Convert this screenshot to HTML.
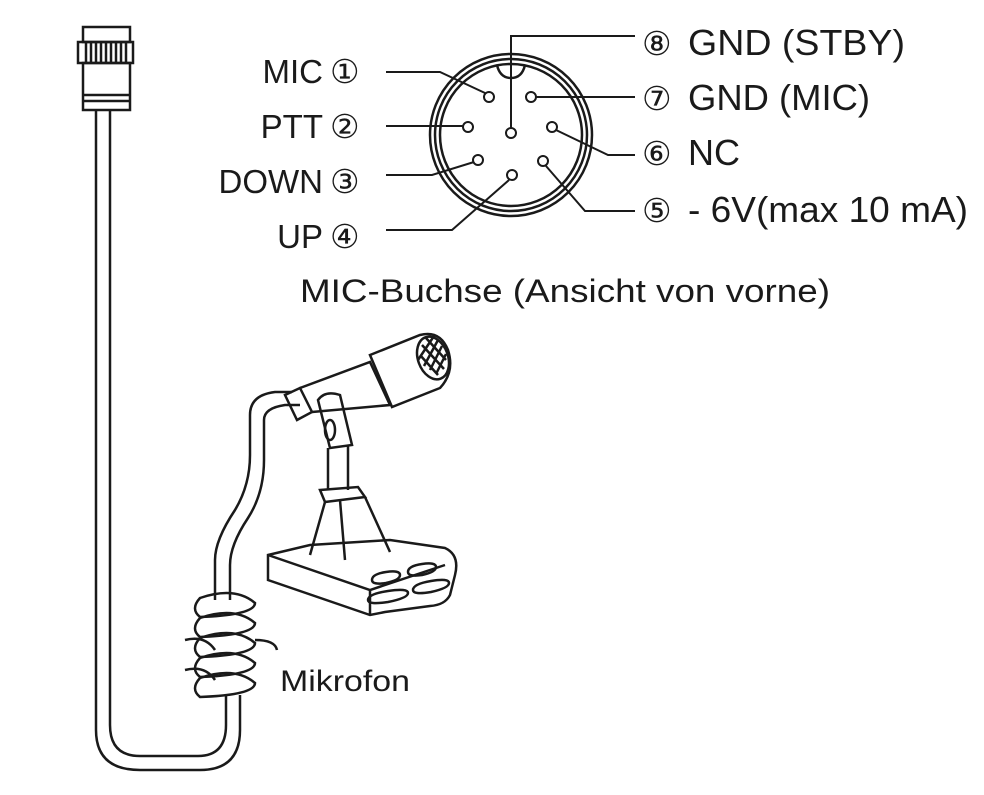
<!DOCTYPE html>
<html><head><meta charset="utf-8"><style>
body{margin:0;background:#fff;}
svg{display:block}
text{font-family:"Liberation Sans",sans-serif;fill:#1a1a1a}
</style></head><body>
<svg width="984" height="795" viewBox="0 0 984 795" xmlns="http://www.w3.org/2000/svg">
<g fill="none" stroke="#1a1a1a" stroke-width="2.5">
<rect x="83" y="27" width="47" height="15"/>
<rect x="78" y="42" width="55" height="21"/>
<path d="M86 42v21M91 42v21M96 42v21M101 42v21M106 42v21M111 42v21M116 42v21M121 42v21M126 42v21"/>
<rect x="83" y="63" width="47" height="47"/>
<path d="M83 95h47M83 101h47"/>
<path d="M96 110 V730 Q96 770 140 770 L200 770 Q240 770 240 730 V695"/>
<path d="M110 110 V725 Q110 756 140 756 L198 756 Q226 756 226 725 V695"/>
<path d="M215 600 V560 Q215 540 235 510 Q250 485 250 455 V415 Q250 395 275 392 L292 392"/>
<path d="M230 600 V565 Q230 545 248 518 Q264 493 264 460 V420 Q264 408 285 405 L300 405"/>
<path d="M200 598 q35 -12 55 5 q0 12 -55 14 q-10 -8 0 -19z"/>
<path d="M200 618 q35 -12 55 5 q0 12 -55 14 q-10 -8 0 -19z"/>
<path d="M200 638 q35 -12 55 5 q0 12 -55 14 q-10 -8 0 -19z"/>
<path d="M200 658 q35 -12 55 5 q0 12 -55 14 q-10 -8 0 -19z"/>
<path d="M200 678 q35 -12 55 5 q0 12 -55 14 q-10 -8 0 -19z"/>
<path d="M185 640 q20 -5 30 10M185 670 q20 -5 30 10M255 640 q20 0 22 10"/>
<path d="M285 395 L300 388 L312 412 L297 420 Z"/>
<path d="M300 388 L370 362 L390 405 L312 412"/>
<path d="M370 355 L420 335 Q440 330 448 350 Q455 372 440 388 L392 407 Z"/>
<ellipse cx="433" cy="358" rx="15" ry="22" transform="rotate(-20 433 358)"/>
<path d="M422 345l22 24M420 355l18 20M426 338l20 22M430 370l12-24M424 366l14-26M436 374l10-20M418 360l16-24"/>
<path d="M318 400 Q325 390 340 395 L352 445 L330 448 Z"/>
<ellipse cx="330" cy="430" rx="5" ry="10"/>
<path d="M328 448 V490 M348 446 V490"/>
<path d="M320 490 L358 487 L365 497 L325 502 Z"/>
<path d="M325 502 L310 555 M365 497 L390 552 M340 500 L345 560"/>
<path d="M268 555 L310 545 L390 540 L445 548 Q460 555 455 575 L450 595 Q445 605 430 606 L385 612 L370 615 L268 580 Z"/>
<path d="M268 555 L370 590 L445 565 M370 590 V615"/>
<path d="M372 580 q0 -6 14 -8 q14 -2 14 3 q0 5 -14 8 q-14 2 -14 -3z"/>
<path d="M408 572 q0 -6 14 -8 q14 -2 14 3 q0 5 -14 8 q-14 2 -14 -3z"/>
<path d="M368 600 q0 -6 20 -9 q20 -3 20 2 q0 5 -20 9 q-20 3 -20 -2z"/>
<path d="M413 590 q0 -6 18 -9 q18 -3 18 2 q0 5 -18 9 q-18 3 -18 -2z"/>
<circle cx="511" cy="135" r="81"/>
<circle cx="511" cy="135" r="76"/>
<circle cx="511" cy="135" r="71"/>
<path d="M497 65 Q500 78 511 78 Q522 78 525 65" />
<g stroke-width="2">
<circle cx="489" cy="97" r="5"/><circle cx="531" cy="97" r="5"/>
<circle cx="468" cy="127" r="5"/><circle cx="511" cy="133" r="5"/>
<circle cx="552" cy="127" r="5"/><circle cx="478" cy="160" r="5"/>
<circle cx="543" cy="161" r="5"/><circle cx="512" cy="175" r="5"/>
<path d="M386 72 H440 L485 93"/>
<path d="M386 126 H463"/>
<path d="M386 175 H432 L474 162"/>
<path d="M386 230 H452 L509 180"/>
<path d="M511 128 V36 H635"/>
<path d="M536 97 H635"/>
<path d="M556 130 L608 155 H635"/>
<path d="M546 166 L585 211 H635"/>
</g>
</g>
<g font-size="33" text-anchor="end">
<text x="323" y="83">MIC</text>
<text x="323" y="138">PTT</text>
<text x="323" y="193">DOWN</text>
<text x="323" y="248">UP</text>
</g>
<g font-size="33">
<text x="330" y="83">①</text>
<text x="330" y="138">②</text>
<text x="330" y="193">③</text>
<text x="330" y="248">④</text>
<text x="642" y="55">⑧</text>
<text x="642" y="110">⑦</text>
<text x="642" y="165">⑥</text>
<text x="642" y="222">⑤</text>
</g>
<g font-size="36">
<text x="688" y="55" textLength="217" lengthAdjust="spacingAndGlyphs">GND (STBY)</text>
<text x="688" y="110" textLength="182" lengthAdjust="spacingAndGlyphs">GND (MIC)</text>
<text x="688" y="165" textLength="52" lengthAdjust="spacingAndGlyphs">NC</text>
<text x="688" y="222" textLength="280" lengthAdjust="spacingAndGlyphs">- 6V(max 10 mA)</text>
</g>
<text x="300" y="302" font-size="32" textLength="530" lengthAdjust="spacingAndGlyphs">MIC-Buchse (Ansicht von vorne)</text>
<text x="280" y="691" font-size="30" textLength="130" lengthAdjust="spacingAndGlyphs">Mikrofon</text>
</svg>
</body></html>
